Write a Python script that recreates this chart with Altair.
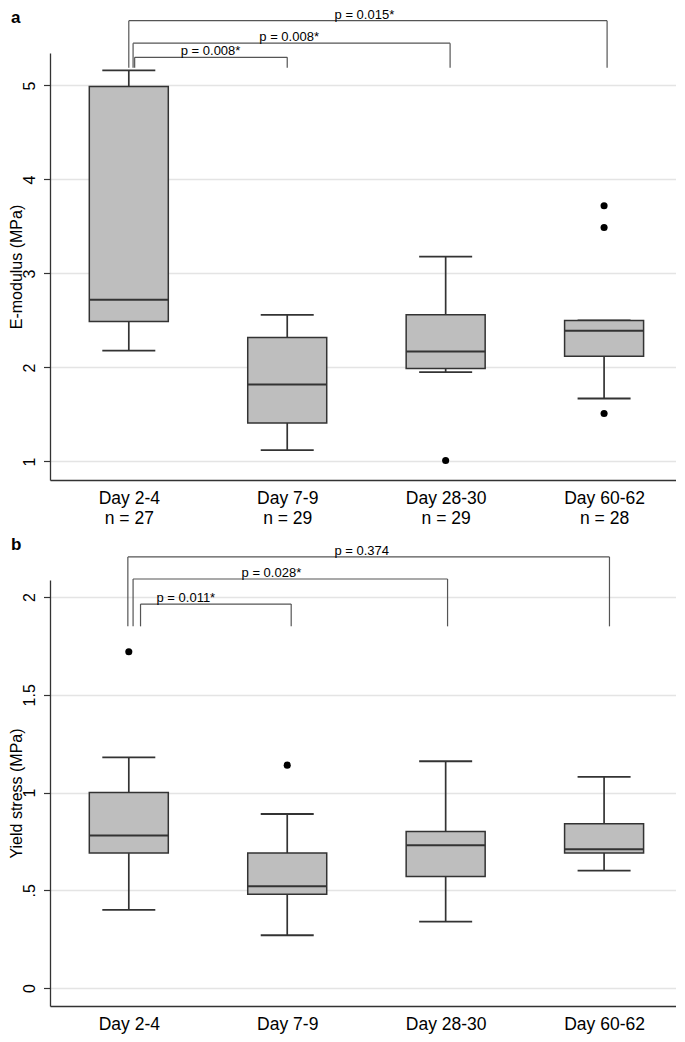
import json
import altair as alt
import pandas as pd

groups = ["Day 2-4", "Day 7-9", "Day 28-30", "Day 60-62"]
counts = ["n = 27", "n = 29", "\u00a0\u00a0n = 29", "\u00a0\u00a0\u00a0n = 28"]
positions = [1, 2, 3, 4]

# Panel a: E-modulus (MPa)
e_lower = [2.18, 1.12, 1.95, 1.67]
e_q1 = [2.49, 1.41, 1.99, 2.12]
e_median = [2.72, 1.82, 2.17, 2.39]
e_q3 = [4.99, 2.32, 2.56, 2.50]
e_upper = [5.16, 2.56, 3.18, 2.50]
e_out_group = [3, 4, 4, 4]
e_out_value = [1.01, 3.72, 3.49, 1.51]
e_ticks = [1, 2, 3, 4, 5]
e_tick_labels = ["1", "2", "3", "4", "5"]
e_p_labels = ["p = 0.008*", "p = 0.008*", "p = 0.015*"]
e_p_from = [1.037, 1.027, 1.0]
e_p_to = [2.0, 3.028, 4.019]
e_p_top = [5.30, 5.45, 5.69]
e_p_foot = [5.19, 5.19, 5.19]
e_p_text_x = [1.516, 2.012, 2.487]

# Panel b: Yield stress (MPa)
y_lower = [0.40, 0.27, 0.34, 0.60]
y_q1 = [0.69, 0.48, 0.57, 0.69]
y_median = [0.78, 0.52, 0.73, 0.71]
y_q3 = [1.00, 0.69, 0.80, 0.84]
y_upper = [1.18, 0.89, 1.16, 1.08]
y_out_group = [1, 2]
y_out_value = [1.72, 1.14]
y_ticks = [0, 0.5, 1, 1.5, 2]
y_tick_labels = ["0", ".5", "1", "1.5", "2"]
y_p_labels = ["p = 0.011*", "p = 0.028*", "p = 0.374"]
y_p_from = [1.074, 1.027, 0.994]
y_p_to = [2.025, 3.012, 4.034]
y_p_top = [1.964, 2.092, 2.205]
y_p_foot = [1.85, 1.85, 1.85]
y_p_text_x = [1.36, 1.90, 2.47]

FONT = "Liberation Sans, Arial, Helvetica, sans-serif"
INK = "#333333"
W = 626
X_DOMAIN = [0.53416, 4.42236]


def panel(letter, title, lower, q1, med, q3, upper, og, ov, ticks, tlabels,
          domain, height, plabels, pfrom, pto, ptop, pfoot, ptx, xlabels):
    box = pd.DataFrame({"pos": positions, "lower": lower, "q1": q1,
                        "median": med, "q3": q3, "upper": upper})
    out = pd.DataFrame({"pos": og, "value": ov})
    br = pd.DataFrame({"from": pfrom, "to": pto, "top": ptop, "foot": pfoot,
                       "tx": ptx, "label": plabels})
    xs = alt.Scale(domain=X_DOMAIN, nice=False, zero=False)
    ys = alt.Scale(domain=domain, nice=False, zero=False)
    xaxis = alt.Axis(title=None, values=positions,
                     labelExpr=json.dumps(xlabels, ensure_ascii=False) + "[datum.value - 1]",
                     ticks=False, tickSize=0, grid=False, domainColor=INK,
                     domainWidth=1.3, labelFontSize=17.5, labelLineHeight=19.5,
                     labelPadding=9.6, labelColor="black", labelAngle=0,
                     labelFlush=False, labelOverlap=False)
    yaxis = alt.Axis(title=title, values=ticks,
                     labelExpr=json.dumps(tlabels) + "[indexof(" + json.dumps(ticks) + ", datum.value)]",
                     labelAngle=-90, labelAlign="center", labelBaseline="alphabetic",
                     labelFontSize=16, labelPadding=8.6, labelColor="black",
                     tickSize=6.5, tickColor=INK, tickWidth=1.2,
                     grid=True, gridColor="#e4e4e4", gridWidth=1.3,
                     domainColor=INK, domainWidth=1.3,
                     titleFontSize=16, titleFontWeight="normal", titlePadding=-3,
                     titleColor="black", labelFlush=False, labelOverlap=False)

    def X(f):
        return alt.X(f, scale=xs, axis=xaxis)

    def Y(f):
        return alt.Y(f, scale=ys, axis=yaxis)

    base = alt.Chart(box)
    upper_w = base.mark_rule(color=INK, strokeWidth=1.7).encode(
        x=X("pos:Q"), y=Y("q3:Q"), y2="upper:Q")
    lower_w = base.mark_rule(color=INK, strokeWidth=1.7).encode(
        x=X("pos:Q"), y=Y("lower:Q"), y2="q1:Q")
    caps_u = base.mark_tick(orient="horizontal", size=53, thickness=1.8,
                            color=INK, opacity=1).encode(x=X("pos:Q"), y=Y("upper:Q"))
    caps_l = base.mark_tick(orient="horizontal", size=53, thickness=1.8,
                            color=INK, opacity=1).encode(x=X("pos:Q"), y=Y("lower:Q"))
    boxes = base.mark_bar(size=79, fill="#bebebe", stroke=INK,
                          strokeWidth=1.5).encode(x=X("pos:Q"), y=Y("q1:Q"), y2="q3:Q")
    medians = base.mark_tick(orient="horizontal", size=79, thickness=2,
                             color=INK, opacity=1).encode(x=X("pos:Q"), y=Y("median:Q"))
    outliers = alt.Chart(out).mark_circle(size=50, color="black", opacity=1).encode(
        x=X("pos:Q"), y=Y("value:Q"))

    bc = alt.Chart(br)
    b_h = bc.mark_rule(color="#555555", strokeWidth=1.2).encode(
        x=X("from:Q"), x2="to:Q", y=Y("top:Q"))
    b_l = bc.mark_rule(color="#555555", strokeWidth=1.2).encode(
        x=X("from:Q"), y=Y("foot:Q"), y2="top:Q")
    b_r = bc.mark_rule(color="#555555", strokeWidth=1.2).encode(
        x=X("to:Q"), y=Y("foot:Q"), y2="top:Q")
    b_t = bc.mark_text(fontSize=13, baseline="alphabetic", dy=-2,
                       color="black").encode(x=X("tx:Q"), y=Y("top:Q"), text="label:N")

    let = alt.Chart(pd.DataFrame({"t": [letter]})).mark_text(
        fontSize=17, fontWeight="bold", align="left", baseline="alphabetic",
        color="black").encode(x=alt.value(-39), y=alt.value(-30), text="t:N")

    return alt.layer(upper_w, lower_w, caps_u, caps_l, boxes, medians, outliers,
                     b_h, b_l, b_r, b_t, let).properties(width=W, height=height)


xl_a = [[g, c] for g, c in zip(groups, counts)]
xl_b = [[g] for g in groups]

top = panel("a", "E-modulus (MPa)", e_lower, e_q1, e_median, e_q3, e_upper,
            e_out_group, e_out_value, e_ticks, e_tick_labels,
            [0.803, 5.3456], 427, e_p_labels, e_p_from, e_p_to, e_p_top,
            e_p_foot, e_p_text_x, xl_a)
bottom = panel("b", "Yield stress (MPa)", y_lower, y_q1, y_median, y_q3, y_upper,
               y_out_group, y_out_value, y_ticks, y_tick_labels,
               [-0.092, 2.087], 426, y_p_labels, y_p_from, y_p_to, y_p_top,
               y_p_foot, y_p_text_x, xl_b)

chart = alt.vconcat(top, bottom, spacing=9).properties(
    padding={"left": 0, "right": 0, "top": 0, "bottom": 0}
).configure(font=FONT).configure_view(strokeOpacity=0)

chart.save("out.html", embed_options={"renderer": "svg", "actions": False})
